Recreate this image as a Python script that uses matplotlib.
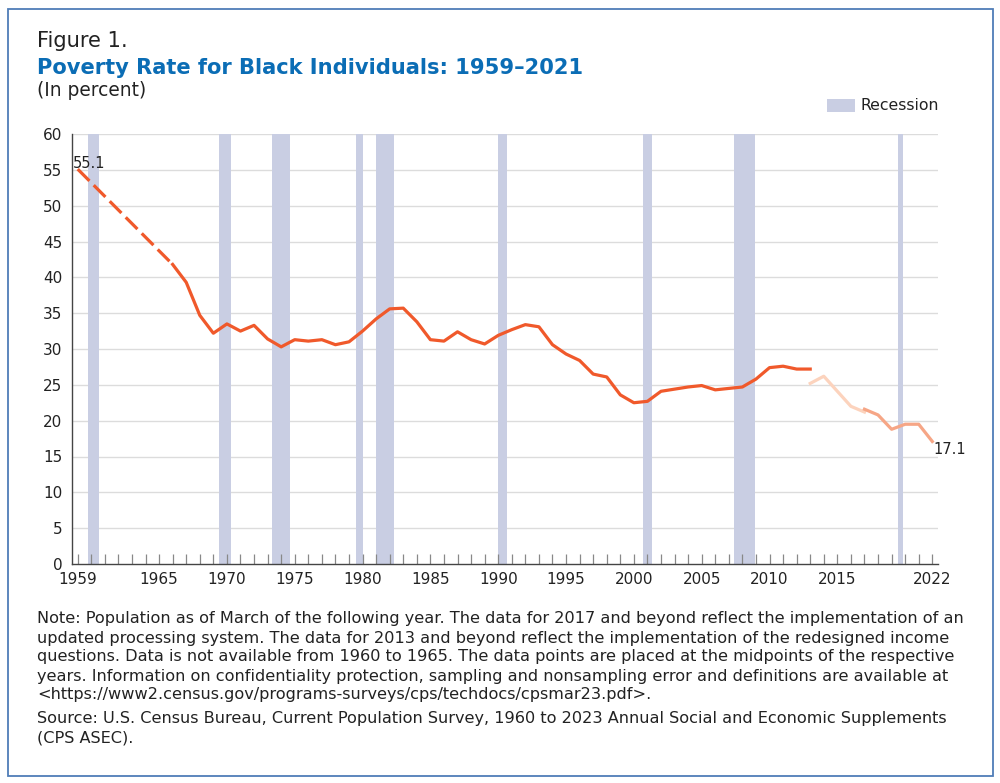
import matplotlib
matplotlib.use("Agg")
import matplotlib.pyplot as plt
from matplotlib.patches import Rectangle
import numpy as np

plt.rcParams['font.family'] = ['DejaVu Sans']

# ---------------- data ----------------
years_early = [1959, 1966]
values_early = [55.1, 41.8]

years_main = [1966, 1967, 1968, 1969, 1970, 1971, 1972, 1973, 1974, 1975, 1976, 1977,
              1978, 1979, 1980, 1981, 1982, 1983, 1984, 1985, 1986, 1987, 1988, 1989,
              1990, 1991, 1992, 1993, 1994, 1995, 1996, 1997, 1998, 1999, 2000, 2001,
              2002, 2003, 2004, 2005, 2006, 2007, 2008, 2009, 2010, 2011, 2012, 2013]
values_main = [41.8, 39.3, 34.7, 32.2, 33.5, 32.5, 33.3, 31.4, 30.3, 31.3, 31.1, 31.3,
               30.6, 31.0, 32.5, 34.2, 35.6, 35.7, 33.8, 31.3, 31.1, 32.4, 31.3, 30.7,
               31.9, 32.7, 33.4, 33.1, 30.6, 29.3, 28.4, 26.5, 26.1, 23.6, 22.5, 22.7,
               24.1, 24.4, 24.7, 24.9, 24.3, 24.5, 24.7, 25.8, 27.4, 27.6, 27.2, 27.2]

years_redesign = [2013, 2014, 2015, 2016, 2017]
values_redesign = [25.2, 26.2, 24.1, 22.0, 21.2]

years_updated = [2017, 2018, 2019, 2020, 2021, 2022]
values_updated = [21.6, 20.8, 18.8, 19.5, 19.5, 17.1]

# NBER recessions (peak, trough) as fractional years
recession_start = [1960.25, 1969.917, 1973.833, 1980.0, 1981.5, 1990.5, 2001.167, 2007.917, 2020.0]
recession_end   = [1961.083, 1970.833, 1975.167, 1980.5, 1982.833, 1991.167, 2001.833, 2009.417, 2020.33]

tick_labels = [1959, 1965, 1970, 1975, 1980, 1985, 1990, 1995, 2000, 2005, 2010, 2015, 2022]
y_ticks = [0, 5, 10, 15, 20, 25, 30, 35, 40, 45, 50, 55, 60]

note_lines = [
    "Note: Population as of March of the following year. The data for 2017 and beyond reflect the implementation of an",
    "updated processing system. The data for 2013 and beyond reflect the implementation of the redesigned income",
    "questions. Data is not available from 1960 to 1965. The data points are placed at the midpoints of the respective",
    "years. Information on confidentiality protection, sampling and nonsampling error and definitions are available at",
    "<https://www2.census.gov/programs-surveys/cps/techdocs/cpsmar23.pdf>.",
]
source_lines = [
    "Source: U.S. Census Bureau, Current Population Survey, 1960 to 2023 Annual Social and Economic Supplements",
    "(CPS ASEC).",
]

# ---------------- styles ----------------
C_MAIN = "#F0592B"
C_REDESIGN = "#FCD3BD"
C_UPDATED = "#F6A686"
C_REC = "#C9CEE3"
C_GRID = "#DCDCDC"
C_TITLE = "#0B6DB5"
C_TEXT = "#222222"

W, H = 1000, 783
fig = plt.figure(figsize=(W / 100, H / 100), dpi=100)
renderer = fig.canvas.get_renderer()

def fx(px):
    return px / W

def fy(py):
    return 1 - py / H

def fit(t, target_px):
    w = t.get_window_extent(renderer).width
    t.set_fontsize(t.get_fontsize() * target_px / w)
    return t.get_fontsize()

# border
fig.patches.append(Rectangle((fx(8), fy(776)), fx(993) - fx(8), fy(9) - fy(776),
                             transform=fig.transFigure, fill=False,
                             edgecolor="#4F7DB8", linewidth=1.3))

ax = fig.add_axes([fx(72), fy(564), fx(938) - fx(72), fy(134) - fy(564)])
ax.set_xlim(1958.58, 2022.42)
ax.set_ylim(0, 60)

# recession shading (data points sit at year midpoints -> shift by half year)
for s, e in zip(recession_start, recession_end):
    ax.axvspan(s - 0.5, e - 0.5, color=C_REC, lw=0, zorder=1)

for v in y_ticks[1:]:
    ax.axhline(v, color=C_GRID, lw=1.0, zorder=0.5)

lw = 2.3
ax.plot(years_early, values_early, color=C_MAIN, lw=lw, dashes=(5.2, 1.9), zorder=3,
        dash_capstyle='butt')
ax.plot(years_main, values_main, color=C_MAIN, lw=lw, zorder=3)
ax.plot(years_redesign, values_redesign, color=C_REDESIGN, lw=lw, zorder=3)
ax.plot(years_updated, values_updated, color=C_UPDATED, lw=lw, zorder=3)

ax.text(1958.65, values_early[0] + 0.15, f"{values_early[0]:.1f}",
        fontsize=10.5, color=C_TEXT, ha='left', va='baseline', zorder=4)
ax.text(years_updated[-1] + 0.12, values_updated[-1] - 1.1, f"{values_updated[-1]:.1f}",
        fontsize=10.5, color=C_TEXT, ha='left', va='center', zorder=4)

for sp in ['top', 'right']:
    ax.spines[sp].set_visible(False)
for sp in ['left', 'bottom']:
    ax.spines[sp].set_color("#444444")
    ax.spines[sp].set_linewidth(1.0)

ax.set_yticks(y_ticks)
ax.set_yticklabels([str(v) for v in y_ticks])
ax.tick_params(axis='y', length=0, pad=7, labelsize=11, labelcolor=C_TEXT)

ax.set_xticks(np.arange(1959, 2023))
ax.set_xticklabels([str(y) if y in tick_labels else "" for y in range(1959, 2023)])
ax.tick_params(axis='x', direction='in', length=7.5, width=0.9, color="#888888",
               pad=6, labelsize=11, labelcolor=C_TEXT)

# titles
t1 = fig.text(fx(37), fy(47), "Figure 1.", fontsize=15, color=C_TEXT, ha='left', va='baseline')
fit(t1, 91)
t2 = fig.text(fx(37), fy(74), "Poverty Rate for Black Individuals: 1959\u20132021", fontsize=15,
              fontweight='bold', color=C_TITLE, ha='left', va='baseline')
fit(t2, 548)
t3 = fig.text(fx(37), fy(96), "(In percent)", fontsize=12, color=C_TEXT, ha='left', va='baseline')
fit(t3, 109)

# legend
fig.patches.append(Rectangle((fx(827), fy(112)), fx(855) - fx(827), fy(99) - fy(112),
                             transform=fig.transFigure, color=C_REC, lw=0))
tl = fig.text(fx(861), fy(105), "Recession", fontsize=11, color=C_TEXT, ha='left', va='center')
fit(tl, 79)

# notes
y0 = 619
texts = []
for i, line in enumerate(note_lines):
    texts.append(fig.text(fx(37), fy(y0 + 19 * i), line, fontsize=11, color=C_TEXT,
                          ha='left', va='center'))
y1 = 719
for i, line in enumerate(source_lines):
    texts.append(fig.text(fx(37), fy(y1 + 19 * i), line, fontsize=11, color=C_TEXT,
                          ha='left', va='center'))
fs = fit(texts[0], 928)
for t in texts:
    t.set_fontsize(fs)

fig.savefig("out.png", dpi=100)
